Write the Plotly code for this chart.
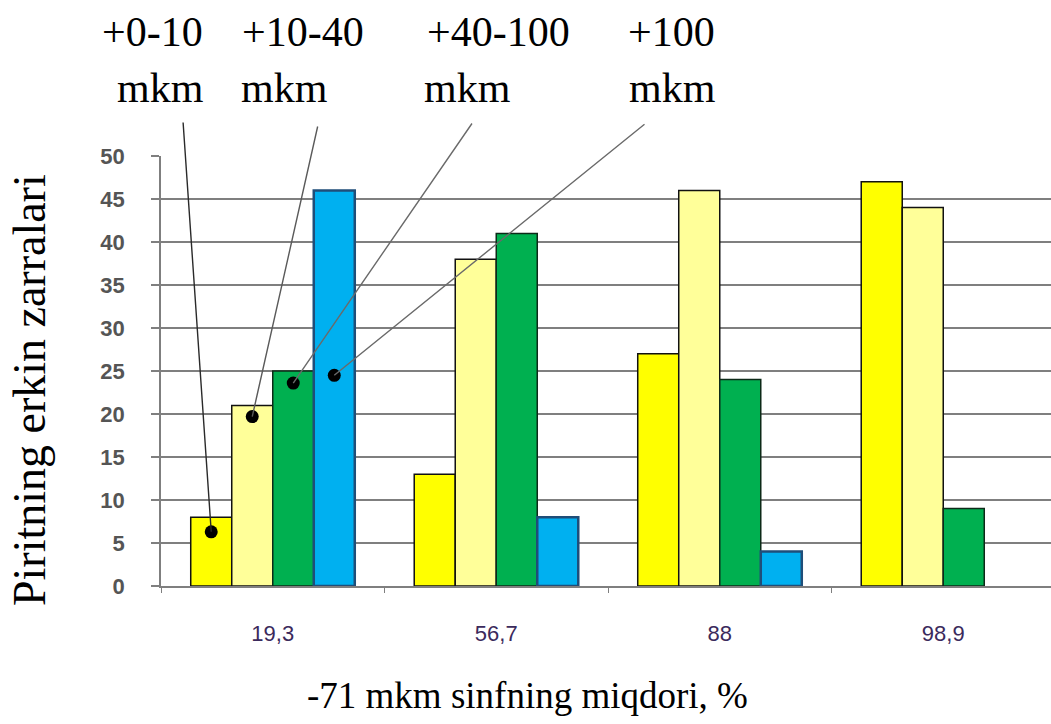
import plotly.graph_objects as go

# Categories: share of the -71 mkm class, %
categories = ["19,3", "56,7", "88", "98,9"]

# Free pyrite particles by size class
series_names = ["+0-10\nmkm", "+10-40\nmkm", "+40-100\nmkm", "+100\nmkm"]
s_0_10 = [8, 13, 27, 47]
s_10_40 = [21, 38, 46, 44]
s_40_100 = [25, 41, 24, 9]
s_100 = [46, 8, 4, None]

# Heights of the callout points placed on the first group's bars
pointer_levels = [6.3, 19.7, 23.6, 24.5]

y_ticks = [0, 5, 10, 15, 20, 25, 30, 35, 40, 45, 50]

# ---- layout geometry (pixels) ----
W, H = 1051, 724
PL, PT, PW, PH = 161, 156, 890, 430
X0 = -0.5
UNIT = 223.5                       # pixels per category
X1 = X0 + PW / UNIT
YMAX = 50
BARGAP = 0.266
N = 4
BW = (1 - BARGAP) / N


def px_x(px):
    return (px - PL) / PW


def px_y(py):
    return (PT + PH - py) / PH


def data_to_px(x, y):
    return PL + (x - X0) * UNIT, PT + PH - y * PH / YMAX


fills = ["#FFFF00", "#FFFF99", "#00B050", "#00B0F0"]
edges = ["#111111", "#111111", "#0d2a18", "#1F4E79"]
edge_w = [1.5, 1.5, 1.5, 2.5]
values = [s_0_10, s_10_40, s_40_100, s_100]
xs = list(range(len(categories)))

fig = go.Figure()
for name, vals, fc, ec, ew in zip(series_names, values, fills, edges, edge_w):
    fig.add_trace(go.Bar(
        x=xs, y=vals, name=name.replace("\n", " "),
        marker=dict(color=fc, line=dict(color=ec, width=ew)),
        showlegend=False,
    ))

# callout points: one on each bar of the first group
dot_x = [(i - (N - 1) / 2) * BW for i in range(N)]
fig.add_trace(go.Scatter(
    x=dot_x, y=pointer_levels, mode="markers",
    marker=dict(color="black", size=13),
    showlegend=False, cliponaxis=False,
))

serif = "Liberation Serif"
annotations = []

# leader lines from label area down to the callout points
tails = [(183, 121), (318, 125), (473, 122), (646, 123)]
line_cols = ["#2a2a2a", "#5a5a5a", "#6a6a6a", "#6a6a6a"]
for xd, yd, (tx, ty), lc in zip(dot_x, pointer_levels, tails, line_cols):
    dx, dy = data_to_px(xd, yd)
    annotations.append(dict(
        x=xd, y=yd, xref="x", yref="y", text="",
        showarrow=True, arrowhead=0, arrowwidth=1.4, arrowcolor=lc,
        ax=tx - dx, ay=ty - dy, standoff=0, startstandoff=0,
    ))

# size-class labels, two lines each
label_pos = [((152.5, 31.5), (160, 88)),
             ((303, 31.5), (284, 88)),
             ((498.5, 31.5), (467, 88)),
             ((671.5, 31.5), (672.5, 88))]
for name, ((x1, y1), (x2, y2)) in zip(series_names, label_pos):
    top, bottom = name.split("\n")
    for txt, (x, y) in ((top, (x1, y1)), (bottom, (x2, y2))):
        annotations.append(dict(
            x=px_x(x), y=px_y(y), xref="paper", yref="paper",
            text=txt, showarrow=False, xanchor="center", yanchor="middle",
            font=dict(family=serif, size=42, color="black"),
        ))

# axis titles
annotations.append(dict(
    x=px_x(29), y=px_y(390), xref="paper", yref="paper",
    text="Piritning erkin zarralari", textangle=-90, showarrow=False,
    xanchor="center", yanchor="middle",
    font=dict(family=serif, size=46, color="black"),
))
annotations.append(dict(
    x=px_x(527.5), y=px_y(695), xref="paper", yref="paper",
    text="-71 mkm sinfning miqdori, %", showarrow=False,
    xanchor="center", yanchor="middle",
    font=dict(family=serif, size=37, color="black"),
))

grid = "#7f7f7f"
fig.update_layout(
    width=W, height=H,
    margin=dict(l=PL, r=W - PL - PW, t=PT, b=H - PT - PH, pad=0),
    paper_bgcolor="white", plot_bgcolor="white",
    barmode="group", bargap=BARGAP, bargroupgap=0,
    annotations=annotations,
    xaxis=dict(
        range=[X0, X1], tickvals=xs, ticktext=categories,
        ticks="", showgrid=False, zeroline=False,
        showline=True, linecolor=grid, linewidth=1.5,
        tickfont=dict(family="Liberation Sans", size=22, color="#3b2a5c"),
        ticklabelstandoff=27,
        minor=dict(tickvals=[x - 0.5 for x in xs], ticks="outside",
                   ticklen=5, tickcolor=grid, tickwidth=1.2, showgrid=False),
    ),
    yaxis=dict(
        range=[0, YMAX], tickvals=y_ticks,
        showgrid=True, gridcolor=grid, gridwidth=1.5, zeroline=False,
        showline=True, linecolor=grid, linewidth=1.5,
        ticks="outside", ticklen=8, tickcolor=grid, tickwidth=1.5,
        tickfont=dict(family="Liberation Sans", size=22, color="#555555",
                      weight="bold"),
        ticklabelstandoff=22,
    ),
)

fig.write_html("out.html")
